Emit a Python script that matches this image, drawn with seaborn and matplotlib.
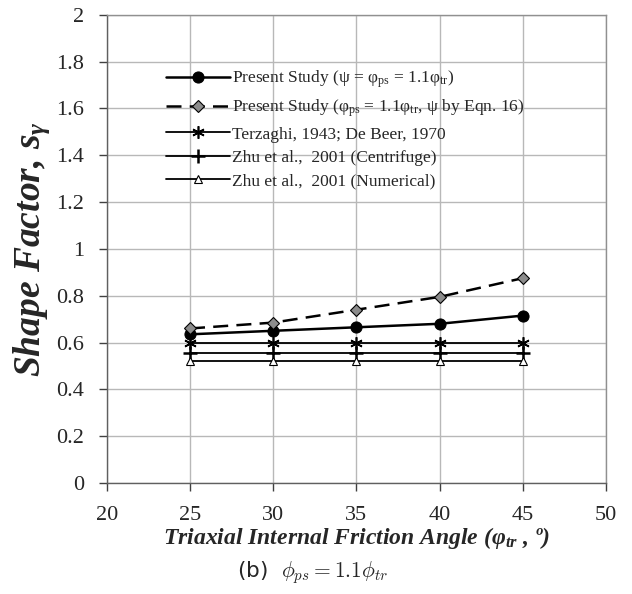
import numpy as np
import pandas as pd
import seaborn as sns
from matplotlib import pyplot as plt

# dados
phi_tr = [25, 30, 35, 40, 45]
present = [0.635, 0.65, 0.665, 0.68, 0.715]
present_eqn = [0.66, 0.685, 0.74, 0.795, 0.875]
terzaghi = [0.6, 0.6, 0.6, 0.6, 0.6]
zhu_centr = [0.555, 0.555, 0.555, 0.555, 0.555]
zhu_num = [0.52, 0.52, 0.52, 0.52, 0.52]

labels = [
    r'Present Study (ψ = φ$_{\mathrm{ps}}$ = 1.1φ$_{\mathrm{tr}}$)',
    r'Present Study (φ$_{\mathrm{ps}}$ = 1.1φ$_{\mathrm{tr}}$, ψ by Eqn. 16)',
    'Terzaghi, 1943; De Beer, 1970',
    'Zhu et al.,  2001 (Centrifuge)',
    'Zhu et al.,  2001 (Numerical)',
]
xticks = [20, 25, 30, 35, 40, 45, 50]
yticks = [0, 0.2, 0.4, 0.6, 0.8, 1, 1.2, 1.4, 1.6, 1.8, 2]
ytick_labels = ['0', '0.2', '0.4', '0.6', '0.8', '1', '1.2', '1.4', '1.6', '1.8', '2']

sns.set_style('white')
plt.rcParams['font.family'] = ['Liberation Serif', 'DejaVu Serif']
plt.rcParams['mathtext.fontset'] = 'custom'
plt.rcParams['mathtext.rm'] = 'Liberation Serif'
plt.rcParams['mathtext.it'] = 'Liberation Serif:italic:bold'
plt.rcParams['mathtext.bf'] = 'Liberation Serif:bold'

fig = plt.figure(figsize=(6.32, 5.94), dpi=100)
ax = fig.add_axes([0.169, 0.187, 0.79, 0.788])

# series
sns.lineplot(x=phi_tr, y=present, ax=ax, color='black', lw=1.8, marker='o',
             markersize=8, markeredgecolor='black', label=labels[0], zorder=5)
sns.lineplot(x=phi_tr, y=present_eqn, ax=ax, color='black', lw=1.8, linestyle=(0, (6, 3.3)),
             marker='D', markersize=6.5, markerfacecolor='#8c8c8c', markeredgecolor='black',
             markeredgewidth=0.8, label=labels[1], zorder=5)
sns.lineplot(x=phi_tr, y=terzaghi, ax=ax, color='black', lw=1.3, marker=(6, 2, 0),
             markersize=9, markeredgecolor='black', markeredgewidth=1.2,
             label=labels[2], zorder=4)
sns.lineplot(x=phi_tr, y=zhu_centr, ax=ax, color='black', lw=1.3, marker='+',
             markersize=10, markeredgecolor='black', markeredgewidth=1.8,
             label=labels[3], zorder=4)
sns.lineplot(x=phi_tr, y=zhu_num, ax=ax, color='black', lw=1.3, marker='^',
             markersize=5.5, markerfacecolor='white', markeredgecolor='black',
             markeredgewidth=0.8, label=labels[4], zorder=4)

ax.set_xlim(20, 50)
ax.set_ylim(0, 2)
ax.set_xticks(xticks)
ax.set_xticklabels([str(v) for v in xticks])
ax.set_yticks(yticks)
ax.set_yticklabels(ytick_labels)
ax.tick_params(axis='both', direction='out', length=5.5, width=1, color='#404040',
               labelsize=16, pad=11, left=True, bottom=True)
ax.grid(True, color='#b8b8b8', lw=1)
for s in ax.spines.values():
    s.set_color('#909090')
    s.set_linewidth(1)
ax.spines['left'].set_color('#606060')
ax.spines['bottom'].set_color('#606060')

ax.set_ylabel(r'Shape Factor, $s_{\gamma}$', fontsize=27, fontweight='bold',
              fontstyle='italic', labelpad=3)
ax.set_xlabel(r'Triaxial Internal Friction Angle (φ$_{tr}$ , º)', fontsize=17,
              fontweight='bold', fontstyle='italic', labelpad=0)

leg = ax.legend(loc='upper left', bbox_to_anchor=(0.105, 0.9), frameon=False,
                fontsize=12.5, handlelength=3.7, handletextpad=0.1, labelspacing=0.42,
                borderaxespad=0)

fig.text(0.495, 0.036, r'(b)  $\phi_{ps} = 1.1\phi_{tr}$', fontsize=15.5, ha='center',
         va='center', family='DejaVu Sans', math_fontfamily='cm')

fig.savefig('out.png', dpi=100)
